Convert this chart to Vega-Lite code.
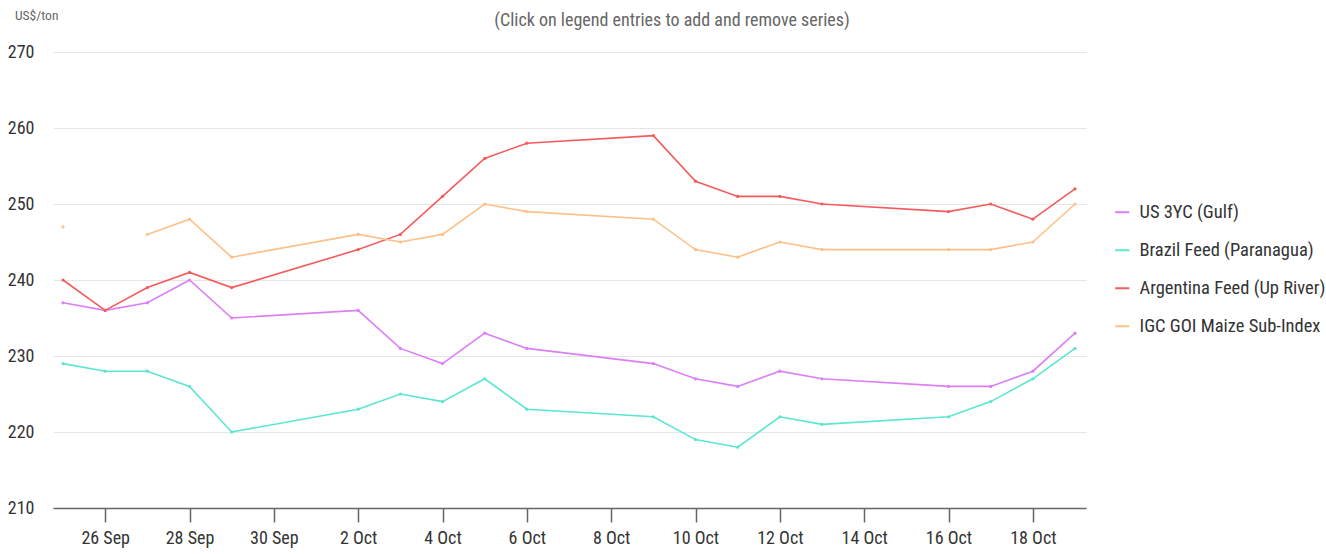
{
  "$schema": "https://vega.github.io/schema/vega-lite/v6.json",
  "width": 1033,
  "height": 456,
  "autosize": "none",
  "padding": {"left": 53, "top": 52, "right": 240, "bottom": 46},
  "background": "white",
  "config": {
    "font": "Roboto Condensed, Liberation Sans Narrow, Liberation Sans, Arial",
    "view": {"stroke": null}
  },
  "data": {"values": [
    {"date": "2023-09-25", "series": "US 3YC (Gulf)", "price": 237},
    {"date": "2023-09-26", "series": "US 3YC (Gulf)", "price": 236},
    {"date": "2023-09-27", "series": "US 3YC (Gulf)", "price": 237},
    {"date": "2023-09-28", "series": "US 3YC (Gulf)", "price": 240},
    {"date": "2023-09-29", "series": "US 3YC (Gulf)", "price": 235},
    {"date": "2023-10-02", "series": "US 3YC (Gulf)", "price": 236},
    {"date": "2023-10-03", "series": "US 3YC (Gulf)", "price": 231},
    {"date": "2023-10-04", "series": "US 3YC (Gulf)", "price": 229},
    {"date": "2023-10-05", "series": "US 3YC (Gulf)", "price": 233},
    {"date": "2023-10-06", "series": "US 3YC (Gulf)", "price": 231},
    {"date": "2023-10-09", "series": "US 3YC (Gulf)", "price": 229},
    {"date": "2023-10-10", "series": "US 3YC (Gulf)", "price": 227},
    {"date": "2023-10-11", "series": "US 3YC (Gulf)", "price": 226},
    {"date": "2023-10-12", "series": "US 3YC (Gulf)", "price": 228},
    {"date": "2023-10-13", "series": "US 3YC (Gulf)", "price": 227},
    {"date": "2023-10-16", "series": "US 3YC (Gulf)", "price": 226},
    {"date": "2023-10-17", "series": "US 3YC (Gulf)", "price": 226},
    {"date": "2023-10-18", "series": "US 3YC (Gulf)", "price": 228},
    {"date": "2023-10-19", "series": "US 3YC (Gulf)", "price": 233},
    {"date": "2023-09-25", "series": "Brazil Feed (Paranagua)", "price": 229},
    {"date": "2023-09-26", "series": "Brazil Feed (Paranagua)", "price": 228},
    {"date": "2023-09-27", "series": "Brazil Feed (Paranagua)", "price": 228},
    {"date": "2023-09-28", "series": "Brazil Feed (Paranagua)", "price": 226},
    {"date": "2023-09-29", "series": "Brazil Feed (Paranagua)", "price": 220},
    {"date": "2023-10-02", "series": "Brazil Feed (Paranagua)", "price": 223},
    {"date": "2023-10-03", "series": "Brazil Feed (Paranagua)", "price": 225},
    {"date": "2023-10-04", "series": "Brazil Feed (Paranagua)", "price": 224},
    {"date": "2023-10-05", "series": "Brazil Feed (Paranagua)", "price": 227},
    {"date": "2023-10-06", "series": "Brazil Feed (Paranagua)", "price": 223},
    {"date": "2023-10-09", "series": "Brazil Feed (Paranagua)", "price": 222},
    {"date": "2023-10-10", "series": "Brazil Feed (Paranagua)", "price": 219},
    {"date": "2023-10-11", "series": "Brazil Feed (Paranagua)", "price": 218},
    {"date": "2023-10-12", "series": "Brazil Feed (Paranagua)", "price": 222},
    {"date": "2023-10-13", "series": "Brazil Feed (Paranagua)", "price": 221},
    {"date": "2023-10-16", "series": "Brazil Feed (Paranagua)", "price": 222},
    {"date": "2023-10-17", "series": "Brazil Feed (Paranagua)", "price": 224},
    {"date": "2023-10-18", "series": "Brazil Feed (Paranagua)", "price": 227},
    {"date": "2023-10-19", "series": "Brazil Feed (Paranagua)", "price": 231},
    {"date": "2023-09-25", "series": "Argentina Feed (Up River)", "price": 240},
    {"date": "2023-09-26", "series": "Argentina Feed (Up River)", "price": 236},
    {"date": "2023-09-27", "series": "Argentina Feed (Up River)", "price": 239},
    {"date": "2023-09-28", "series": "Argentina Feed (Up River)", "price": 241},
    {"date": "2023-09-29", "series": "Argentina Feed (Up River)", "price": 239},
    {"date": "2023-10-02", "series": "Argentina Feed (Up River)", "price": 244},
    {"date": "2023-10-03", "series": "Argentina Feed (Up River)", "price": 246},
    {"date": "2023-10-04", "series": "Argentina Feed (Up River)", "price": 251},
    {"date": "2023-10-05", "series": "Argentina Feed (Up River)", "price": 256},
    {"date": "2023-10-06", "series": "Argentina Feed (Up River)", "price": 258},
    {"date": "2023-10-09", "series": "Argentina Feed (Up River)", "price": 259},
    {"date": "2023-10-10", "series": "Argentina Feed (Up River)", "price": 253},
    {"date": "2023-10-11", "series": "Argentina Feed (Up River)", "price": 251},
    {"date": "2023-10-12", "series": "Argentina Feed (Up River)", "price": 251},
    {"date": "2023-10-13", "series": "Argentina Feed (Up River)", "price": 250},
    {"date": "2023-10-16", "series": "Argentina Feed (Up River)", "price": 249},
    {"date": "2023-10-17", "series": "Argentina Feed (Up River)", "price": 250},
    {"date": "2023-10-18", "series": "Argentina Feed (Up River)", "price": 248},
    {"date": "2023-10-19", "series": "Argentina Feed (Up River)", "price": 252},
    {"date": "2023-09-25", "series": "IGC GOI Maize Sub-Index", "price": 247},
    {"date": "2023-09-26", "series": "IGC GOI Maize Sub-Index", "price": null},
    {"date": "2023-09-27", "series": "IGC GOI Maize Sub-Index", "price": 246},
    {"date": "2023-09-28", "series": "IGC GOI Maize Sub-Index", "price": 248},
    {"date": "2023-09-29", "series": "IGC GOI Maize Sub-Index", "price": 243},
    {"date": "2023-10-02", "series": "IGC GOI Maize Sub-Index", "price": 246},
    {"date": "2023-10-03", "series": "IGC GOI Maize Sub-Index", "price": 245},
    {"date": "2023-10-04", "series": "IGC GOI Maize Sub-Index", "price": 246},
    {"date": "2023-10-05", "series": "IGC GOI Maize Sub-Index", "price": 250},
    {"date": "2023-10-06", "series": "IGC GOI Maize Sub-Index", "price": 249},
    {"date": "2023-10-09", "series": "IGC GOI Maize Sub-Index", "price": 248},
    {"date": "2023-10-10", "series": "IGC GOI Maize Sub-Index", "price": 244},
    {"date": "2023-10-11", "series": "IGC GOI Maize Sub-Index", "price": 243},
    {"date": "2023-10-12", "series": "IGC GOI Maize Sub-Index", "price": 245},
    {"date": "2023-10-13", "series": "IGC GOI Maize Sub-Index", "price": 244},
    {"date": "2023-10-16", "series": "IGC GOI Maize Sub-Index", "price": 244},
    {"date": "2023-10-17", "series": "IGC GOI Maize Sub-Index", "price": 244},
    {"date": "2023-10-18", "series": "IGC GOI Maize Sub-Index", "price": 245},
    {"date": "2023-10-19", "series": "IGC GOI Maize Sub-Index", "price": 250}
  ]},
  "encoding": {
    "x": {
      "field": "date", "type": "temporal",
      "scale": {"type": "utc", "domain": ["2023-09-24T18:18:00Z", "2023-10-19T06:15:00Z"]},
      "axis": {
        "title": null,
        "values": ["2023-09-26", "2023-09-28", "2023-09-30", "2023-10-02", "2023-10-04", "2023-10-06", "2023-10-08", "2023-10-10", "2023-10-12", "2023-10-14", "2023-10-16", "2023-10-18"],
        "labelExpr": "utcFormat(datum.value, '%-d %b')",
        "grid": false,
        "domainColor": "#666666",
        "domainWidth": 1.5,
        "tickColor": "#666666",
        "tickSize": 14,
        "tickWidth": 1.5,
        "labelPadding": 7,
        "labelFontSize": 18,
        "labelColor": "#333333",
        "labelFlush": false
      }
    },
    "y": {
      "field": "price", "type": "quantitative",
      "scale": {"domain": [210, 270], "nice": false, "zero": false},
      "axis": {
        "title": null,
        "values": [210, 220, 230, 240, 250, 260, 270],
        "domain": false,
        "ticks": false,
        "labelPadding": 19,
        "labelFontSize": 18,
        "labelColor": "#333333",
        "gridColor": "#e6e6e6",
        "gridWidth": 1
      }
    },
    "color": {
      "field": "series", "type": "nominal",
      "scale": {
        "domain": ["US 3YC (Gulf)", "Brazil Feed (Paranagua)", "Argentina Feed (Up River)", "IGC GOI Maize Sub-Index"],
        "range": ["#dc7ff7", "#5ae6d0", "#f45b5b", "#ffc088"]
      },
      "legend": {
        "title": null,
        "orient": "none",
        "legendX": 1060,
        "legendY": 151,
        "symbolType": "stroke",
        "symbolSize": 200,
        "symbolStrokeWidth": 2,
        "labelFontSize": 18.5,
        "labelLimit": 400,
        "labelColor": "#333333",
        "rowPadding": 19,
        "labelOffset": 8
      }
    }
  },
  "layer": [
    {
      "mark": {"type": "line", "strokeWidth": 1.6, "invalid": "break-paths-show-domains"}
    },
    {
      "mark": {"type": "point", "filled": true, "size": 10, "opacity": 1}
    },
    {
      "data": {"values": [{"t": "(Click on legend entries to add and remove series)"}]},
      "mark": {"type": "text", "fontSize": 18, "color": "#666666", "x": 619, "y": -31, "align": "center", "baseline": "middle"},
      "encoding": {"text": {"field": "t"}, "x": null, "y": null, "color": null}
    },
    {
      "data": {"values": [{"t": "US$/ton"}]},
      "mark": {"type": "text", "fontSize": 13.5, "color": "#666666", "x": -38, "y": -36, "align": "left", "baseline": "middle"},
      "encoding": {"text": {"field": "t"}, "x": null, "y": null, "color": null}
    }
  ]
}
